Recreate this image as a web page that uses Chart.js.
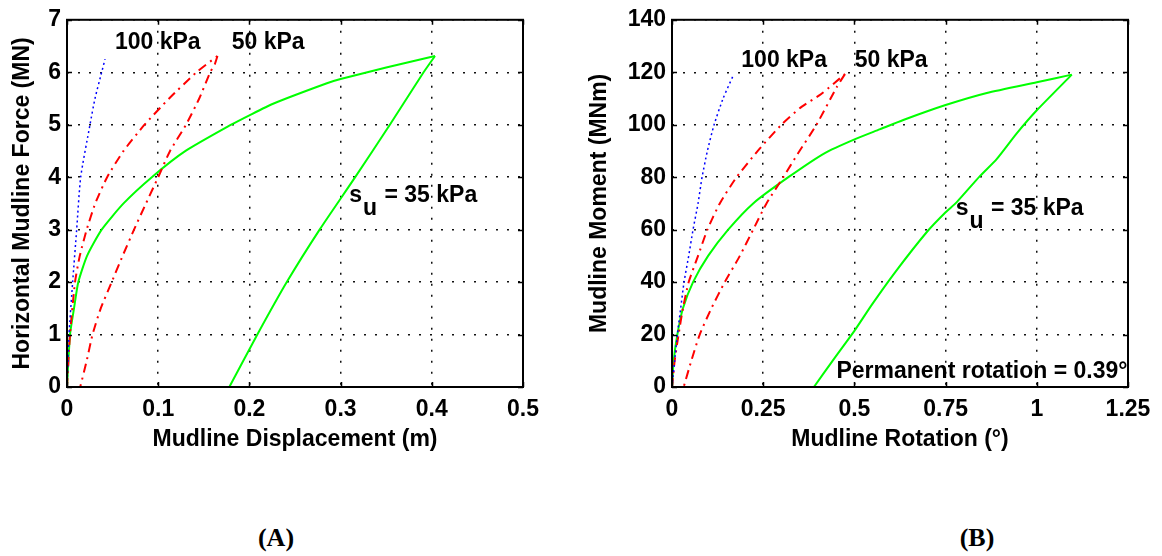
<!DOCTYPE html>
<html>
<head>
<meta charset="utf-8">
<script src="https://cdn.jsdelivr.net/npm/chart.js@4.4.0/dist/chart.umd.min.js"></script>
<style>
    body { margin: 0; background: #fff; width: 1162px; height: 556px; overflow: hidden; position: relative; }
    canvas { position: absolute; top: 0; }
    #chartA { left: 0; }
    #chartB { left: 581px; }
    .cap { position: absolute; top: 523px; line-height: 30px; transform: translateX(-50%);
           font: bold 26px "Liberation Serif", "Times New Roman", serif; color: #000; }
</style>
</head>
<body>
<canvas id="chartA" width="581" height="470"></canvas>
<canvas id="chartB" width="581" height="470"></canvas>
<div class="cap" style="left:276px">(A)</div>
<div class="cap" style="left:977px">(B)</div>
<script>
// (A) mudline displacement (m) vs horizontal force (MN)
const dispA35Load   = [0, 0.0033, 0.0077, 0.0124, 0.022, 0.038, 0.062, 0.093, 0.13, 0.18, 0.2, 0.226, 0.285, 0.3, 0.35, 0.4035];
const forceA35Load  = [0, 1, 1.5, 2, 2.5, 3, 3.5, 4, 4.5, 5, 5.18, 5.4, 5.79, 5.87, 6.09, 6.31];
const dispA35Unload  = [0.4035, 0.391, 0.354, 0.316, 0.277, 0.241, 0.2087, 0.178];
const forceA35Unload = [6.31, 6, 5, 4, 3, 2, 1, 0];
const dispA50Load   = [0, 0.0033, 0.0088, 0.014, 0.0216, 0.031, 0.044, 0.062, 0.085, 0.112, 0.142, 0.165];
const forceA50Load  = [0, 1, 2, 2.5, 3, 3.5, 4, 4.5, 5, 5.5, 6, 6.31];
const dispA50Unload  = [0.165, 0.162, 0.157, 0.145, 0.1305, 0.113, 0.1, 0.0866, 0.0735, 0.061, 0.049, 0.037, 0.028, 0.0216, 0.0145];
const forceA50Unload = [6.31, 6.15, 6, 5.5, 5, 4.5, 4, 3.5, 3, 2.5, 2, 1.5, 1, 0.5, 0];
const dispA100  = [0, 0.0022, 0.0062, 0.0106, 0.015, 0.0252, 0.0307, 0.038, 0.0417];
const forceA100 = [0, 1, 2, 3, 4, 5, 5.5, 6, 6.25];

// (B) mudline rotation (deg) vs mudline moment (MNm)
const rotB35Load   = [0, 0.0046, 0.0147, 0.030, 0.0577, 0.099, 0.154, 0.2225, 0.319, 0.419, 0.502, 0.569, 0.634, 0.75, 0.863, 1.0, 1.096];
const momB35Load   = [0, 10, 20, 30, 40, 50, 60, 70, 80, 89.2, 94.5, 98.2, 101.8, 107.5, 112.1, 116.2, 119.1];
const rotB35Unload = [1.096, 1.0, 0.945, 0.89, 0.844, 0.78, 0.75, 0.698, 0.613, 0.548, 0.5, 0.447, 0.389];
const momB35Unload = [119.1, 105.5, 96.7, 86.9, 80.4, 70.4, 66.6, 59, 44, 31.4, 21.4, 11.3, 0];
const rotB50Load   = [0, 0.0073, 0.018, 0.03, 0.0458, 0.0714, 0.097, 0.131, 0.177, 0.238, 0.30, 0.355, 0.41, 0.474];
const momB50Load   = [0, 10, 20, 30, 40, 50, 60, 70, 80, 90.5, 100, 106.8, 111.8, 119.3];
const rotB50Unload = [0.474, 0.4515, 0.396, 0.346, 0.305, 0.259, 0.2225, 0.186, 0.1447, 0.108, 0.076, 0.053, 0.032];
const momB50Unload = [119.3, 114.3, 100, 89.2, 80, 70, 60, 50, 40, 30, 20, 10, 0];
const rotB100 = [0, 0.0073, 0.0147, 0.0238, 0.033, 0.0458, 0.0577, 0.0714, 0.0824, 0.097, 0.1154, 0.14, 0.1676];
const momB100 = [0, 10, 20, 30, 40, 50, 60, 70, 80, 90, 100, 110, 118.7];

const ticksA_x = [0, 0.1, 0.2, 0.3, 0.4, 0.5];
const ticksA_y = [0, 1, 2, 3, 4, 5, 6, 7];
const ticksB_x = [0, 0.25, 0.5, 0.75, 1, 1.25];
const ticksB_y = [0, 20, 40, 60, 80, 100, 120, 140];

const FONT = '"Liberation Sans", Arial, sans-serif';
Chart.defaults.font.family = FONT;
Chart.defaults.font.size = 23;
Chart.defaults.font.weight = 'bold';
Chart.defaults.color = '#000';

function pts(xs, ys) {
    return xs.map((x, i) => ({ x: x, y: ys[i] }));
}

const styleBlue  = { borderColor: '#0000ff', borderWidth: 1.5, borderDash: [2, 3] };
const styleRed   = { borderColor: '#ff0000', borderWidth: 2, borderDash: [9, 5, 2, 5] };
const styleGreen = { borderColor: '#00ff00', borderWidth: 2 };

// frame, inward ticks and text labels, like the matlab figure
const framePlugin = {
    id: 'frame',
    afterDraw(chart, args, opts) {
        const ctx = chart.ctx;
        const a = chart.chartArea;
        const sx = chart.scales.x, sy = chart.scales.y;
        ctx.save();
        ctx.strokeStyle = '#000';
        ctx.lineWidth = 1.5;
        const tl = 5;
        ctx.beginPath();
        sx.ticks.forEach(t => {
            const px = Math.round(sx.getPixelForValue(t.value)) + 0.5;
            ctx.moveTo(px, a.bottom); ctx.lineTo(px, a.bottom - tl);
            ctx.moveTo(px, a.top); ctx.lineTo(px, a.top + tl);
        });
        sy.ticks.forEach(t => {
            const py = Math.round(sy.getPixelForValue(t.value)) + 0.5;
            ctx.moveTo(a.left, py); ctx.lineTo(a.left + tl, py);
            ctx.moveTo(a.right, py); ctx.lineTo(a.right - tl, py);
        });
        ctx.stroke();
        ctx.lineWidth = 2;
        ctx.strokeRect(a.left, a.top, a.right - a.left, a.bottom - a.top);

        ctx.fillStyle = '#000';
        ctx.font = 'bold 23px ' + FONT;
        ctx.textBaseline = 'alphabetic';
        ctx.textAlign = 'left';
        (opts.labels || []).forEach(l => {
            const x = sx.getPixelForValue(l.x);
            const y = sy.getPixelForValue(l.y) + 8;
            if (l.sub) {
                ctx.fillText(l.text, x, y);
                const w1 = ctx.measureText(l.text).width + 1;
                ctx.fillText(l.sub, x + w1, y + 13);
                const w2 = ctx.measureText(l.sub).width + 1;
                ctx.fillText(l.rest, x + w1 + w2, y);
            } else {
                ctx.fillText(l.text, x, y);
            }
        });
        ctx.restore();
    }
};

function makeChart(id, cfg) {
    const sets = [
        Object.assign({ data: cfg.blue }, styleBlue),
        Object.assign({ data: cfg.redLoad }, styleRed),
        Object.assign({ data: cfg.redUnload }, styleRed),
        Object.assign({ data: cfg.greenLoad }, styleGreen),
        Object.assign({ data: cfg.greenUnload }, styleGreen)
    ].map(d => Object.assign(d, { showLine: true, pointRadius: 0, tension: 0.2, fill: false }));

    return new Chart(document.getElementById(id), {
        type: 'scatter',
        data: { datasets: sets },
        options: {
            responsive: false,
            animation: false,
            layout: { padding: cfg.padding },
            plugins: {
                legend: { display: false },
                tooltip: { enabled: false },
                frame: { labels: cfg.labels }
            },
            scales: {
                x: {
                    type: 'linear',
                    min: cfg.xTicks[0], max: cfg.xTicks[cfg.xTicks.length - 1],
                    afterBuildTicks: s => { s.ticks = cfg.xTicks.map(v => ({ value: v })); },
                    ticks: { padding: 9, maxRotation: 0, callback: v => String(v) },
                    grid: { color: '#111', lineWidth: 1.5, drawTicks: false },
                    border: { display: false, dash: [2, 9] },
                    title: { display: true, text: cfg.xTitle, padding: { top: 0, bottom: 0 } },
                    afterFit: s => { s.height = 66; }
                },
                y: {
                    type: 'linear',
                    min: cfg.yTicks[0], max: cfg.yTicks[cfg.yTicks.length - 1],
                    afterBuildTicks: s => { s.ticks = cfg.yTicks.map(v => ({ value: v })); },
                    ticks: { padding: 6, callback: v => String(v) },
                    grid: { color: '#111', lineWidth: 1.5, drawTicks: false },
                    border: { display: false, dash: [2, 9] },
                    title: { display: true, text: cfg.yTitle, padding: { top: cfg.yTitlePad, bottom: 0 } },
                    afterFit: s => { s.width = cfg.yWidth; }
                }
            }
        },
        plugins: [framePlugin]
    });
}

makeChart('chartA', {
    blue: pts(dispA100, forceA100),
    redLoad: pts(dispA50Load, forceA50Load),
    redUnload: pts(dispA50Unload, forceA50Unload),
    greenLoad: pts(dispA35Load, forceA35Load),
    greenUnload: pts(dispA35Unload, forceA35Unload),
    xTicks: ticksA_x, yTicks: ticksA_y,
    xTitle: 'Mudline Displacement (m)',
    yTitle: 'Horizontal Mudline Force (MN)',
    yWidth: 67, yTitlePad: 9,
    padding: { left: 0, top: 15, right: 58, bottom: 17 },
    labels: [
        { text: '100 kPa', x: 0.0526, y: 6.59 },
        { text: '50 kPa', x: 0.1806, y: 6.59 },
        { text: 's', sub: 'u', rest: ' = 35 kPa', x: 0.3095, y: 3.675 }
    ]
});

makeChart('chartB', {
    blue: pts(rotB100, momB100),
    redLoad: pts(rotB50Load, momB50Load),
    redUnload: pts(rotB50Unload, momB50Unload),
    greenLoad: pts(rotB35Load, momB35Load),
    greenUnload: pts(rotB35Unload, momB35Unload),
    xTicks: ticksB_x, yTicks: ticksB_y,
    xTitle: 'Mudline Rotation (°)',
    yTitle: 'Mudline Moment (MNm)',
    yWidth: 91, yTitlePad: 5,
    padding: { left: 0, top: 15, right: 34, bottom: 17 },
    labels: [
        { text: '100 kPa', x: 0.19, y: 125.1 },
        { text: '50 kPa', x: 0.5008, y: 125.1 },
        { text: 's', sub: 'u', rest: ' = 35 kPa', x: 0.7777, y: 68.6 },
        { text: 'Permanent rotation = 0.39°', x: 0.4507, y: 6.5 }
    ]
});
</script>
</body>
</html>
